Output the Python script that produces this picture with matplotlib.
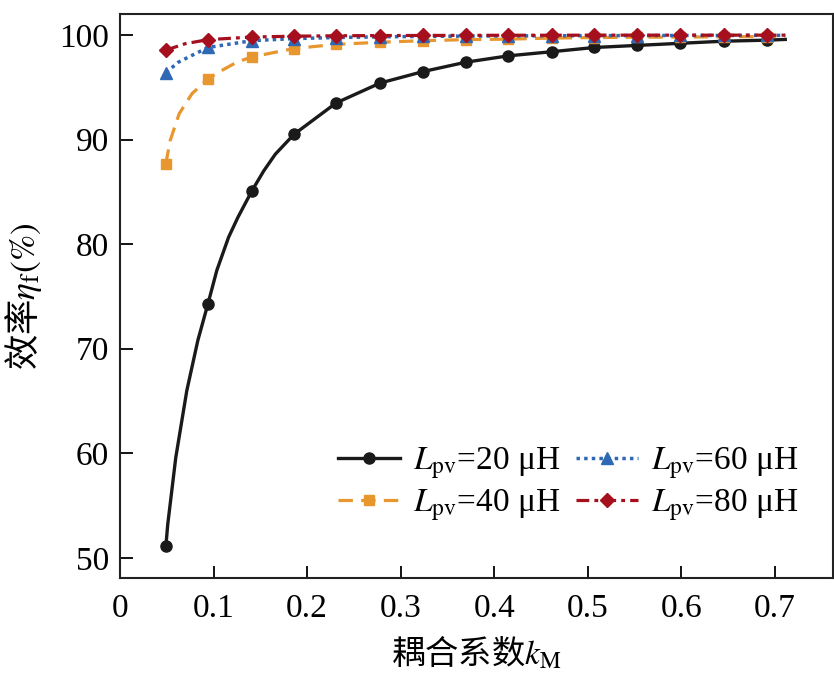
import matplotlib
matplotlib.use("Agg")
import matplotlib.pyplot as plt

plt.rcParams['font.family'] = ['Liberation Serif', 'Noto Sans CJK SC']
plt.rcParams['mathtext.fontset'] = 'stix'

# ---- data ----
k_markers = [0.049, 0.094, 0.141, 0.186, 0.231, 0.278, 0.324, 0.370,
             0.415, 0.462, 0.507, 0.553, 0.599, 0.645, 0.691]
k_end = 0.711

eta20_markers = [51.1, 74.3, 85.1, 90.5, 93.5, 95.4, 96.5, 97.4,
                 98.0, 98.4, 98.8, 99.0, 99.2, 99.4, 99.5]
eta20_end = 99.57
k20_extra = [0.051, 0.0596, 0.0714, 0.0832, 0.1035, 0.116, 0.126, 0.1536, 0.166]
eta20_extra = [53.2, 59.6, 66.0, 70.8, 77.5, 80.65, 82.56, 87.0, 88.6]

eta40_markers = [87.7, 95.8, 97.9, 98.7, 99.1, 99.3, 99.45, 99.55,
                 99.6, 99.7, 99.75, 99.78, 99.8, 99.82, 99.85]
eta40_end = 99.86
k40_extra = [0.0536, 0.0632, 0.0768, 0.1054, 0.125]
eta40_extra = [89.9, 92.46, 94.37, 96.44, 97.4]

eta60_markers = [96.4, 98.8, 99.45, 99.65, 99.75, 99.82, 99.86, 99.89,
                 99.9, 99.92, 99.93, 99.94, 99.95, 99.95, 99.96]
eta60_end = 99.96
k60_extra = [0.0625, 0.0768]
eta60_extra = [97.4, 98.04]

eta80_markers = [98.55, 99.55, 99.8, 99.88, 99.92, 99.94, 99.95, 99.96,
                 99.97, 99.97, 99.98, 99.98, 99.98, 99.98, 99.98]
eta80_end = 99.98
k80_extra = [0.0697]
eta80_extra = [99.16]

labels = [r'$L_{\mathrm{pv}}$=20 μH', r'$L_{\mathrm{pv}}$=40 μH',
          r'$L_{\mathrm{pv}}$=60 μH', r'$L_{\mathrm{pv}}$=80 μH']
xticks = [0, 0.1, 0.2, 0.3, 0.4, 0.5, 0.6, 0.7]
xticklabels = ['0', '0.1', '0.2', '0.3', '0.4', '0.5', '0.6', '0.7']
yticks = [50, 60, 70, 80, 90, 100]


def build(em, ex_k, ex_e, end):
    pts = list(zip(k_markers, em)) + list(zip(ex_k, ex_e)) + [(k_end, end)]
    pts.sort(key=lambda p: p[0])
    ks = [p[0] for p in pts]
    es = [p[1] for p in pts]
    mk = set(k_markers)
    idx = [i for i, k in enumerate(ks) if k in mk]
    return ks, es, idx


series = [
    (eta20_markers, k20_extra, eta20_extra, eta20_end,
     dict(color='#1a1a1a', ls='-', marker='o', ms=8, lw=2.4)),
    (eta40_markers, k40_extra, eta40_extra, eta40_end,
     dict(color='#E8962E', ls=(0, (4.5, 2.6)), marker='s', ms=7.5, lw=2.3)),
    (eta60_markers, k60_extra, eta60_extra, eta60_end,
     dict(color='#2F69B3', ls=(0, (1, 1.2)), marker='^', ms=9, lw=2.5)),
    (eta80_markers, k80_extra, eta80_extra, eta80_end,
     dict(color='#A50F1E', ls=(0, (4, 1.6, 1.2, 1.6)), marker='D', ms=7.5, lw=2.3)),
]

fig = plt.figure(figsize=(8.34, 6.87), dpi=100)
ax = fig.add_axes([0.1439, 0.159, 0.8549, 0.8206])

for (em, ek, ee, end, st), lab in zip(series, labels):
    ks, es, idx = build(em, ek, ee, end)
    ax.plot(ks, es, markevery=idx, label=lab, **st)

ax.set_xlim(0, 0.762)
ax.set_ylim(48.1, 102)
ax.set_xticks(xticks)
ax.set_xticklabels(xticklabels)
ax.set_yticks(yticks)
ax.tick_params(direction='in', length=9, width=1.3, labelsize=24,
               top=False, right=False)
ax.tick_params(axis='x', pad=11)
ax.tick_params(axis='y', pad=8)
for s in ax.spines.values():
    s.set_linewidth(1.5)
    s.set_color('#222222')

ax.set_xlabel(r'耦合系数$k_{\mathrm{M}}$', fontsize=24, labelpad=8,
              family='Noto Sans CJK SC')
ax.set_ylabel(r'效率$\eta_{\mathrm{f}}\mathrm{(\%)}$', fontsize=25.5, labelpad=11,
              family='Noto Sans CJK SC')

leg = ax.legend(ncol=2, loc='upper left', bbox_to_anchor=(0.3058, 0.234),
                frameon=False, fontsize=24, handlelength=1.86,
                handletextpad=0.4, columnspacing=0.45, labelspacing=0.18,
                borderpad=0, borderaxespad=0)

fig.savefig('out.png', dpi=100)
